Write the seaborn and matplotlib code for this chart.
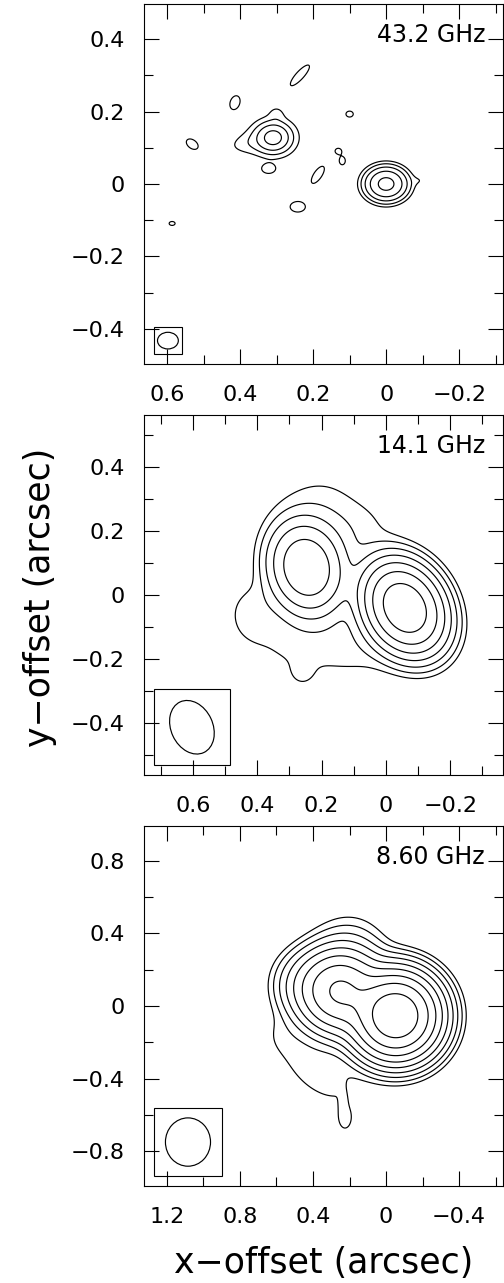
import numpy as np
import matplotlib
matplotlib.use("Agg")
import matplotlib.pyplot as plt
from matplotlib.patches import Ellipse, Rectangle
from matplotlib.ticker import MultipleLocator, FuncFormatter
import seaborn as sns

# ---- 43.2 GHz: gaussian components (offsets in arcsec, peak in units of lowest contour)
x_43 = [0.0, -0.095, 0.309, 0.309, 0.38, 0.30, 0.236, 0.414, 0.531, 0.10, 0.131, 0.12, 0.322, 0.187, 0.242, 0.586]
y_43 = [0.0, 0.010, 0.128, 0.128, 0.112, 0.195, 0.30, 0.225, 0.11, 0.193, 0.091, 0.064, 0.041, 0.025, -0.063, -0.109]
amp_43 = [20.0, 0.7, 9.0, 1.8, 1.0, 0.8, 1.5, 1.5, 1.5, 1.5, 1.5, 1.5, 1.5, 1.5, 1.5, 1.5]
smaj_43 = [0.032, 0.015, 0.026, 0.055, 0.045, 0.015, 0.041, 0.021, 0.020, 0.011, 0.009, 0.012, 0.016, 0.030, 0.023, 0.009]
smin_43 = [0.026, 0.012, 0.022, 0.045, 0.020, 0.015, 0.012, 0.014, 0.013, 0.009, 0.008, 0.009, 0.011, 0.012, 0.016, 0.006]
pa_43 = [0, 0, 0, 0, -10, 0, 132, 110, 37, 0, 0, 90, 0, 124, 0, 0]
levels_43 = [1, 2, 4, 8, 16]

# ---- 14.1 GHz
x_14 = [0.247, -0.059, 0.20, 0.08, 0.25, 0.07, 0.42, 0.26]
y_14 = [0.085, -0.040, 0.25, 0.20, -0.15, -0.17, -0.05, -0.25]
amp_14 = [30.0, 113.0, 1.4, 0.8, 1.2, 0.7, 1.2, 0.6]
smaj_14 = [0.076, 0.075, 0.10, 0.08, 0.15, 0.08, 0.05, 0.03]
smin_14 = [0.061, 0.058, 0.10, 0.06, 0.09, 0.06, 0.06, 0.03]
pa_14 = [75, 60, 0, -20, 0, 0, 0, 0]
levels_14 = [1, 2, 4, 8, 16, 32, 64]

# ---- 8.60 GHz
x_86 = [-0.054, 0.25, 0.42, 0.20, 0.38, 0.56, 0.225, 0.235]
y_86 = [-0.054, 0.08, 0.12, 0.30, -0.36, -0.15, -0.625, -0.54]
amp_86 = [466.0, 140.0, 10.0, 3.0, 1.5, 0.6, 1.3, 0.8]
smaj_86 = [0.11, 0.11, 0.10, 0.12, 0.20, 0.08, 0.050, 0.040]
smin_86 = [0.11, 0.11, 0.10, 0.12, 0.10, 0.08, 0.030, 0.015]
pa_86 = [0, 0, 0, 0, 40, 0, 90, 90]
levels_86 = [1, 2, 4, 8, 16, 32, 64, 128, 256]

freq_labels = ["43.2 GHz", "14.1 GHz", "8.60 GHz"]

# restoring beams (FWHM in arcsec) and where they sit
beam_major = [0.057, 0.174, 0.266]
beam_minor = [0.046, 0.130, 0.247]
beam_pa = [0, 65, 90]
beam_x = [0.5975, 0.603, 1.085]
beam_y = [-0.4325, -0.412, -0.749]
box_half = [0.038, 0.118, 0.186]

x_limits = [(0.663, -0.320), (0.752, -0.364), (1.326, -0.641)]
y_limits = [(-0.497, 0.497), (-0.561, 0.561), (-0.991, 0.991)]
major_step = [0.2, 0.2, 0.4]
minor_step = [0.1, 0.1, 0.2]


def gauss_map(xx, yy, xs, ys, amps, smaj, smin, pa):
    img = np.zeros_like(xx)
    for x0, y0, a, s1, s2, t in zip(xs, ys, amps, smaj, smin, pa):
        th = np.deg2rad(t)
        u = (xx - x0) * np.cos(th) + (yy - y0) * np.sin(th)
        v = -(xx - x0) * np.sin(th) + (yy - y0) * np.cos(th)
        img += a * np.exp(-0.5 * ((u / s1) ** 2 + (v / s2) ** 2))
    return img


def fmt(v, pos):
    if abs(v) < 1e-9:
        return "0"
    return f"{v:g}".replace("-", "\u2212")


sns.set_style("ticks", {"text.color": "black", "xtick.color": "black",
                        "ytick.color": "black", "axes.edgecolor": "black",
                        "axes.labelcolor": "black"})
plt.rcParams["font.family"] = ["DejaVu Sans"]
plt.rcParams["axes.linewidth"] = 0.8

fig = plt.figure(figsize=(5.04, 12.83), dpi=100)
positions = [[0.2857, 0.7163, 0.7123, 0.2806],
             [0.2857, 0.3959, 0.7123, 0.2806],
             [0.2857, 0.0756, 0.7123, 0.2806]]
comps = [(x_43, y_43, amp_43, smaj_43, smin_43, pa_43),
         (x_14, y_14, amp_14, smaj_14, smin_14, pa_14),
         (x_86, y_86, amp_86, smaj_86, smin_86, pa_86)]
levels = [levels_43, levels_14, levels_86]

for i in range(3):
    ax = fig.add_axes(positions[i])
    xl, yl = x_limits[i], y_limits[i]
    gx = np.linspace(min(xl), max(xl), 700)
    gy = np.linspace(min(yl), max(yl), 700)
    xx, yy = np.meshgrid(gx, gy)
    img = gauss_map(xx, yy, *comps[i])
    ax.contour(xx, yy, img, levels=levels[i], colors="black", linewidths=0.85)

    ax.add_patch(Rectangle((beam_x[i] - box_half[i], beam_y[i] - box_half[i]),
                           2 * box_half[i], 2 * box_half[i],
                           fill=False, edgecolor="black", linewidth=0.8))
    ax.add_patch(Ellipse((beam_x[i], beam_y[i]), beam_major[i], beam_minor[i],
                         angle=beam_pa[i], fill=False, edgecolor="black", linewidth=0.85))

    ax.set_xlim(xl)
    ax.set_ylim(yl)
    ax.xaxis.set_major_locator(MultipleLocator(major_step[i]))
    ax.xaxis.set_minor_locator(MultipleLocator(minor_step[i]))
    ax.yaxis.set_major_locator(MultipleLocator(major_step[i]))
    ax.yaxis.set_minor_locator(MultipleLocator(minor_step[i]))
    ax.xaxis.set_major_formatter(FuncFormatter(fmt))
    ax.yaxis.set_major_formatter(FuncFormatter(fmt))
    ax.tick_params(which="both", direction="in", top=True, right=True,
                   width=0.8, colors="black", labelsize=16)
    ax.tick_params(axis="x", which="major", length=11, pad=15)
    ax.tick_params(axis="y", which="major", length=11, pad=14)
    ax.tick_params(which="minor", length=6.5)

    ax.text(0.95, 0.915, freq_labels[i], transform=ax.transAxes,
            ha="right", va="center", fontsize=17)

fig.text(323.5 / 504, 1 - 1263 / 1283, "x\u2212offset (arcsec)",
         ha="center", va="center", fontsize=25)
fig.text(40 / 504, 1 - 597 / 1283, "y\u2212offset (arcsec)",
         ha="center", va="center", rotation=90, fontsize=25)

fig.savefig("out.png", dpi=100)
plt.close(fig)
